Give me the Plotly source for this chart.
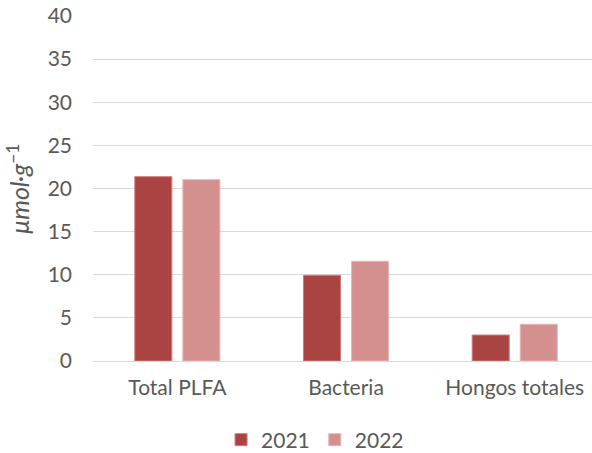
import plotly.graph_objects as go

categories = ["Total PLFA", "Bacteria", "Hongos totales"]
years = ["2021", "2022"]
values_2021 = [21.37, 9.93, 3.01]
values_2022 = [21.02, 11.56, 4.25]
y_ticks = [0, 5, 10, 15, 20, 25, 30, 35, 40]

colors = {"2021": "#A94442", "2022": "#D4908F"}
outline = {"2021": "#D07A78", "2022": "#E8B4B3"}

fig = go.Figure()
for yr, vals in zip(years, [values_2021, values_2022]):
    fig.add_trace(go.Bar(
        x=categories, y=vals, name=yr,
        marker=dict(color=colors[yr], line=dict(color=outline[yr], width=1)),
    ))

font_fam = "Lato, 'Open Sans', sans-serif"
txt = "#595959"
fs = 21
fig.update_layout(
    width=592, height=453,
    margin=dict(l=93, r=0, t=16, b=92, autoexpand=False),
    plot_bgcolor="white", paper_bgcolor="white",
    barmode="group", bargap=0.43, bargroupgap=0.23,
    font=dict(family=font_fam, size=fs, color=txt),
    showlegend=True,
    legend=dict(orientation="h", x=0.445, xanchor="center", y=-0.229, yanchor="middle",
                font=dict(size=fs, color=txt), itemwidth=30, traceorder="normal"),
    xaxis=dict(type="category", range=[-0.5, 2.458], showgrid=False, showline=False,
               ticks="", automargin=False, ticklabelstandoff=12,
               tickfont=dict(size=fs, color=txt)),
    yaxis=dict(range=[0, 40], tickvals=y_ticks, showgrid=True, gridcolor="#D9D9D9",
               gridwidth=1.3, zeroline=True, zerolinecolor="#D9D9D9", zerolinewidth=1.3,
               showline=False, ticks="", ticklabelstandoff=20, automargin=False,
               tickfont=dict(size=fs, color=txt)),
    annotations=[dict(text="<i>μmol·g</i><sup>−1</sup>", xref="paper", yref="paper",
                      x=-0.150, y=0.5, xanchor="center", yanchor="middle",
                      textangle=-90, showarrow=False,
                      font=dict(size=25, color=txt, family=font_fam))],
)

fig.write_html("out.html", config={"displayModeBar": False},
               post_script="document.body.style.margin='0';document.body.style.overflow='hidden';")
